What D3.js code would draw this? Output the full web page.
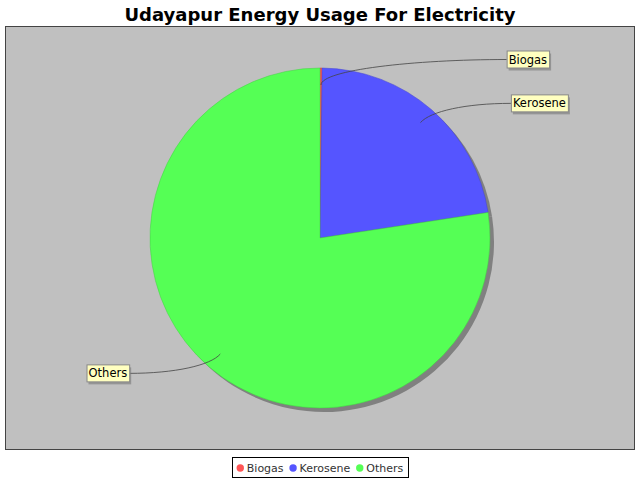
<!DOCTYPE html>
<html>
<head>
<meta charset="utf-8">
<script src="https://cdn.jsdelivr.net/npm/d3@7"></script>
<style>
  body { margin: 0; background: #fff; }
  text { font-family: "DejaVu Sans", sans-serif; }
</style>
</head>
<body>
<script>
// data (percent shares)
var categories = ["Biogas", "Kerosene", "Others"];
var values = [0.2, 22.4, 77.4];
var colors = ["#FF5555", "#5555FF", "#55FF55"];

var width = 640, height = 480;

var svg = d3.select("body").append("svg")
    .attr("width", width)
    .attr("height", height);

// title
svg.append("text")
    .text("Udayapur Energy Usage For Electricity")
    .attr("x", 320)
    .attr("y", 21)
    .attr("text-anchor", "middle")
    .style("font-size", "18px")
    .style("font-weight", "bold");

// plot area
svg.append("rect")
    .attr("x", 5.5)
    .attr("y", 26.5)
    .attr("width", 629)
    .attr("height", 423)
    .style("fill", "#C0C0C0")
    .style("stroke", "#444")
    .style("stroke-width", 1);

var cx = 320, cy = 238, r = 170;

var pie = d3.pie().sort(null).value(function(d) { return d; });
var arcs = pie(values);
var arc = d3.arc().innerRadius(0).outerRadius(r);

var g = svg.append("g").attr("transform", "translate(" + cx + "," + cy + ")");

// shadow
g.append("g")
    .attr("transform", "translate(4,4)")
    .selectAll("path")
    .data(arcs)
    .enter()
    .append("path")
    .attr("d", arc)
    .style("fill", "#808080");

// slices
g.selectAll("path.slice")
    .data(arcs)
    .enter()
    .append("path")
    .attr("class", "slice")
    .attr("d", arc)
    .style("fill", function(d, i) { return colors[i]; })
    .style("stroke", function(d, i) { return d3.color(colors[i]).darker(0.6); })
    .style("stroke-width", 0.5);

// labels with curved leader lines
var anchorR = r * 0.9, linkR = r * 1.05;
arcs.forEach(function(d, i) {
    var a = (d.startAngle + d.endAngle) / 2;
    var dx = Math.sin(a), dy = -Math.cos(a);
    var right = dx >= 0;
    var ax = dx * anchorR, ay = dy * anchorR;
    var ly = dy * linkR;
    // labels sit on a wide ellipse round the pie
    var off = 1.155 * r * Math.sqrt(1 - Math.pow(ly / (3.38 * r), 2));
    var tx = right ? off : -off;

    var p1x = ax + dx * 15, p1y = ay + dy * 15;
    var p2x = (ax + tx) / 2, p2y = ly;
    var path = d3.path();
    path.moveTo(ax, ay);
    path.bezierCurveTo(p1x, p1y, p2x, p2y, tx, ly);
    g.append("path")
        .attr("d", path.toString())
        .style("fill", "none")
        .style("stroke", "#444")
        .style("stroke-width", 0.8);

    var lbl = g.append("g");
    var t = lbl.append("text")
        .text(categories[i])
        .attr("y", ly + 4)
        .style("font-size", "11.5px");
    var w = t.node().getComputedTextLength() + 4;
    var bx = right ? tx : tx - w;
    t.attr("x", bx + 2);
    lbl.insert("rect", "text")
        .attr("x", bx + 2)
        .attr("y", ly - 8 + 2)
        .attr("width", w)
        .attr("height", 17)
        .style("fill", "rgba(120,120,120,0.6)");
    lbl.insert("rect", "text")
        .attr("x", bx + 0.5)
        .attr("y", ly - 8.5)
        .attr("width", w)
        .attr("height", 17)
        .style("fill", "#FFFFC0")
        .style("stroke", "#888")
        .style("stroke-width", 1);
});

// legend
var legend = svg.append("g");
var lx = 0;
categories.forEach(function(c, i) {
    var it = legend.append("g");
    it.append("circle")
        .attr("cx", lx + 3.5)
        .attr("cy", 468)
        .attr("r", 3.7)
        .style("fill", colors[i]);
    var t = it.append("text")
        .text(c)
        .attr("x", lx + 10)
        .attr("y", 472)
        .style("font-size", "11px")
        .style("fill", "#333");
    lx += 10 + t.node().getComputedTextLength() + 6;
});
var legW = lx - 6;
var legX = 320 - legW / 2;
legend.attr("transform", "translate(" + legX + ",0)");
svg.insert("rect", "g")
    .attr("x", Math.round(legX - 5) + 0.5)
    .attr("y", 457.5)
    .attr("width", Math.round(legW + 10))
    .attr("height", 20)
    .style("fill", "#fff")
    .style("stroke", "#000")
    .style("stroke-width", 1);
</script>
</body>
</html>
